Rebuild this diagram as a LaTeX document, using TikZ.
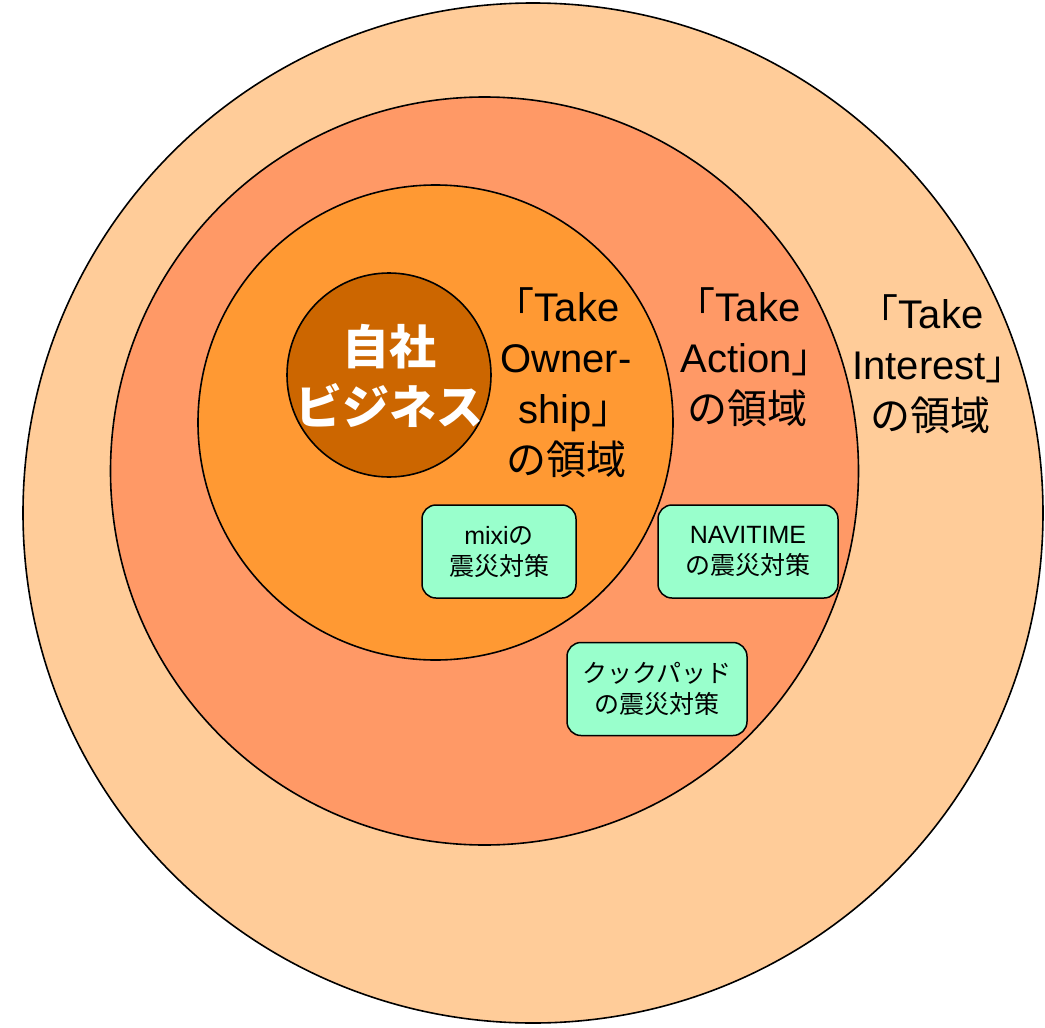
\documentclass[tikz,border=0pt]{standalone}
\usepackage{fontspec}
\setmainfont{Liberation Sans}
\newfontfamily\cjk{Noto Sans CJK JP}
\newcommand\jp[1]{{\cjk #1}}
\newcommand\jopen{\makebox[0.55em][r]{\cjk 「}}
\newcommand\jclose{\makebox[0.55em][l]{\cjk 」}}
\definecolor{ringA}{HTML}{FFCC99}
\definecolor{ringB}{HTML}{FF9966}
\definecolor{ringC}{HTML}{FF9933}
\definecolor{ringD}{HTML}{CC6600}
\definecolor{mint}{HTML}{99FFCC}
\begin{document}
\begin{tikzpicture}[x=1pt,y=-1pt,
  ring/.style={draw=black,line width=1.6pt},
  biglabel/.style={align=center,inner sep=0pt,font=\fontsize{40}{51}\selectfont},
  casebox/.style={draw=black,line width=1.5pt,fill=mint,rounded corners=14pt,
    minimum width=#1,minimum height=93pt,inner sep=0pt,align=center,
    font=\fontsize{25}{31}\selectfont}]
\useasboundingbox (0,0) rectangle (1045,1028);
\fill[white] (0,0) rectangle (1045,1028);
\path[ring,fill=ringA] (533,513) circle[radius=510];
\path[ring,fill=ringB] (484.5,471) circle[radius=374];
\path[ring,fill=ringC] (435.5,422.5) circle[radius=237.5];
\path[ring,fill=ringD] (389,375) circle[radius=102];
\node[align=center,inner sep=0pt,text=white,font=\fontsize{47}{60}\selectfont\cjk\bfseries] (self) at (389,376) {自社\\ビジネス};
\node[biglabel] (own) at (566,383) {\jopen Take\\Owner-\\ship\jclose\\\jp{の領域}};
\node[biglabel] (act) at (747,357) {\jopen Take\\Action\jclose\\\jp{の領域}};
\node[biglabel] (int) at (930,364) {\jopen Take\\Interest\jclose\\\jp{の領域}};
\node[casebox=154pt] (mixi) at (499,551.5) {mixi\jp{の}\\\jp{震災対策}};
\node[casebox=180pt] (navi) at (748,551.5) {NAVITIME\\\jp{の震災対策}};
\node[casebox=180pt] (cook) at (657,689) {\jp{クックパッド}\\\jp{の震災対策}};
\end{tikzpicture}
\end{document}
